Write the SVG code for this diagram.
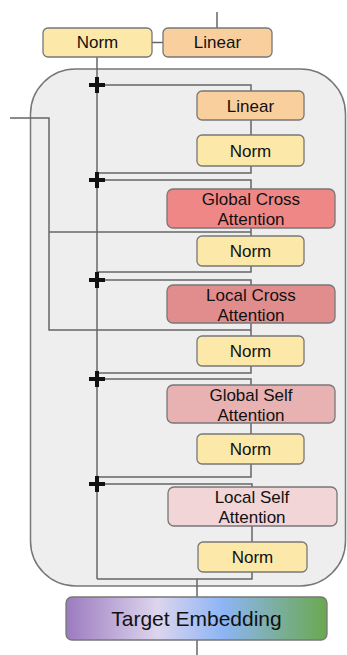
<svg xmlns="http://www.w3.org/2000/svg" width="347" height="655" viewBox="0 0 347 655">
<style>
.box{stroke:#777;stroke-width:1.3}
.norm{fill:#fce8a8}
.lin{fill:#f9cf9d}
.gca{fill:#f08787}
.lca{fill:#e28d8d}
.gsa{fill:#e8b2b2}
.lsa{fill:#f2d5d7}
.ln{fill:none;stroke:#666;stroke-width:1.5}
.plus{fill:none;stroke:#111;stroke-width:4}
text{font-family:"Liberation Sans",Arial,sans-serif;fill:#111;text-anchor:middle}
.t{font-size:17px}
.a{font-size:17px}
.te{font-size:21px}
</style>
<defs>
<linearGradient id="grad" x1="0" y1="0" x2="1" y2="0">
<stop offset="0" stop-color="#9b7bbf"/>
<stop offset="0.35" stop-color="#ddd5ee"/>
<stop offset="0.6" stop-color="#8db5f5"/>
<stop offset="0.8" stop-color="#7cafa2"/>
<stop offset="1" stop-color="#6aa84f"/>
</linearGradient>
</defs>
<rect id="block" x="30.5" y="69" width="315" height="517" rx="45" fill="#eeeeee" stroke="#777" stroke-width="1.5"/>
<g id="connectors">
<path class="ln" d="M217,12 V28"/>
<path class="ln" d="M152,42.5 H163"/>
<path class="ln" d="M97,57 V579"/>
<path class="ln" d="M97,85 H251 V91"/>
<path class="ln" d="M251,120 V135"/>
<path class="ln" d="M251,166 V173 H97"/>
<path class="ln" d="M97,180 H251 V189"/>
<path class="ln" d="M251,228 V236"/>
<path class="ln" d="M10,118 H49 V330 H251"/>
<path class="ln" d="M49,232 H251"/>
<path class="ln" d="M251,266 V272 H97"/>
<path class="ln" d="M97,280 H251 V285"/>
<path class="ln" d="M251,323 V336"/>
<path class="ln" d="M251,366 V373 H97"/>
<path class="ln" d="M97,379 H251 V385"/>
<path class="ln" d="M251,423 V434"/>
<path class="ln" d="M251,464 V477 H97"/>
<path class="ln" d="M97,484 H252 V487"/>
<path class="ln" d="M252,526 V542"/>
<path class="ln" d="M252,572 V579 H97"/>
<path class="ln" d="M197,579 V597"/>
<path class="ln" d="M197,640 V655"/>
</g>
<g id="adds">
<path class="plus" d="M89,85 H105 M97,77 V93"/>
<path class="plus" d="M89,180 H105 M97,172 V188"/>
<path class="plus" d="M89,280 H105 M97,272 V288"/>
<path class="plus" d="M89,379 H105 M97,371 V387"/>
<path class="plus" d="M89,484 H105 M97,476 V492"/>
</g>
<g id="norm-top"><rect class="box norm" x="43" y="28" width="109" height="29" rx="5"/><text class="t" x="97.5" y="48">Norm</text></g>
<g id="linear-top"><rect class="box lin" x="163" y="28" width="109" height="29" rx="5"/><text class="t" x="217.5" y="48">Linear</text></g>
<g id="linear"><rect class="box lin" x="197" y="91" width="107" height="29" rx="5"/><text class="t" x="250.5" y="111.5">Linear</text></g>
<g id="norm1"><rect class="box norm" x="197" y="135" width="107" height="31" rx="5"/><text class="t" x="250.5" y="156.5">Norm</text></g>
<g id="global-cross"><rect class="box gca" x="167" y="189" width="168" height="39" rx="6"/><text class="a" x="251" y="205">Global Cross</text><text class="a" x="251" y="225">Attention</text></g>
<g id="norm2"><rect class="box norm" x="197" y="236" width="107" height="30" rx="5"/><text class="t" x="250.5" y="257">Norm</text></g>
<g id="local-cross"><rect class="box lca" x="167" y="285" width="168" height="38" rx="6"/><text class="a" x="251" y="301">Local Cross</text><text class="a" x="251" y="321">Attention</text></g>
<g id="norm3"><rect class="box norm" x="197" y="336" width="107" height="30" rx="5"/><text class="t" x="250.5" y="357">Norm</text></g>
<g id="global-self"><rect class="box gsa" x="167" y="385" width="168" height="38" rx="6"/><text class="a" x="251" y="401">Global Self</text><text class="a" x="251" y="421">Attention</text></g>
<g id="norm4"><rect class="box norm" x="197" y="434" width="107" height="30" rx="5"/><text class="t" x="250.5" y="455">Norm</text></g>
<g id="local-self"><rect class="box lsa" x="168" y="487" width="169" height="39" rx="6"/><text class="a" x="252" y="503">Local Self</text><text class="a" x="252" y="523">Attention</text></g>
<g id="norm5"><rect class="box norm" x="198" y="542" width="109" height="30" rx="5"/><text class="t" x="252.5" y="563">Norm</text></g>
<g id="target-embedding"><rect x="66" y="597" width="261" height="43" rx="6" fill="url(#grad)" stroke="#777" stroke-width="1.3"/><text class="te" x="196.5" y="626">Target Embedding</text></g>
</svg>
